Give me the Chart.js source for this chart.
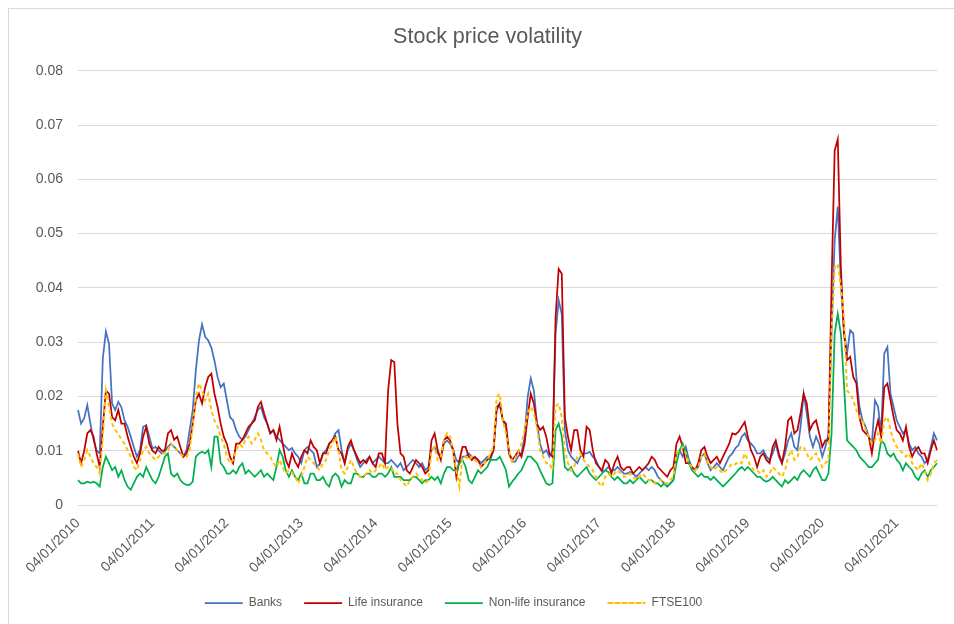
<!DOCTYPE html>
<html>
<head>
<meta charset="utf-8">
<title>Stock price volatility</title>
<script src="https://cdn.jsdelivr.net/npm/chart.js@4.4.1/dist/chart.umd.min.js"></script>
<style>
  html, body { margin: 0; padding: 0; background: #fff; }
  #wrap { position: relative; width: 954px; height: 624px; overflow: hidden; }
  #frame { position: absolute; left: 8px; top: 8px; width: 1000px; height: 1000px; border: 1px solid #d9d9d9; }
  #chart { position: absolute; left: 0; top: 0; }
</style>
</head>
<body>
<div id="wrap">
  <div id="frame"></div>
  <canvas id="chart" width="954" height="624"></canvas>
</div>
<script>
// two readings a month, Jan 2010 .. mid 2021
const pointsPerYear = 24;
const yearTicks = ['04/01/2010','04/01/2011','04/01/2012','04/01/2013','04/01/2014','04/01/2015',
  '04/01/2016','04/01/2017','04/01/2018','04/01/2019','04/01/2020','04/01/2021'];

const banks = [
  0.0175,0.015,0.016,0.0184,0.015,0.012,0.010,0.0095,0.027,0.032,0.0297,0.0187,0.0175,0.019,0.018,0.0156,0.0144,0.0126,0.0107,0.0089,0.0101,0.0144,0.0147,0.0126,
  0.0104,0.0107,0.010,0.0095,0.010,0.0107,0.0113,0.0107,0.0101,0.0095,0.0089,0.0101,0.0138,0.0175,0.0248,0.0303,0.0333,0.031,0.0303,0.029,0.0266,0.0236,0.0217,0.0224,
  0.0193,0.0162,0.0156,0.0138,0.0126,0.012,0.0126,0.0138,0.015,0.0162,0.0175,0.0181,0.0162,0.015,0.0132,0.0138,0.0126,0.012,0.0113,0.0107,0.0101,0.0105,0.0095,0.0089,
  0.0077,0.0101,0.0107,0.0101,0.0095,0.007,0.0077,0.0095,0.0101,0.0113,0.0119,0.0132,0.0138,0.0101,0.0077,0.0101,0.0113,0.0101,0.0083,0.007,0.0077,0.0083,0.0089,0.0077,
  0.0083,0.0089,0.0083,0.0077,0.0077,0.0083,0.0077,0.007,0.0077,0.0064,0.007,0.0077,0.0083,0.0077,0.007,0.0077,0.0064,0.007,0.0101,0.0107,0.0095,0.0089,0.0113,0.0119,
  0.0113,0.0101,0.0083,0.0077,0.0089,0.0089,0.0095,0.0089,0.0086,0.0083,0.0077,0.0083,0.0089,0.0083,0.0101,0.0181,0.0187,0.0156,0.0144,0.0095,0.008,0.008,0.009,0.0095,
  0.0126,0.0199,0.0233,0.0211,0.015,0.0113,0.0095,0.0101,0.0089,0.0101,0.0316,0.0377,0.0352,0.0138,0.0101,0.0089,0.0083,0.0077,0.0089,0.0095,0.0095,0.0098,0.0089,0.0083,
  0.007,0.0061,0.0064,0.007,0.0064,0.0064,0.007,0.0064,0.0058,0.0058,0.0061,0.0058,0.0052,0.0058,0.0064,0.007,0.0064,0.007,0.0064,0.0052,0.0046,0.004,0.0034,0.004,
  0.0046,0.0095,0.0101,0.0089,0.0107,0.0083,0.007,0.0064,0.007,0.0089,0.0095,0.0077,0.0064,0.007,0.0077,0.007,0.0064,0.0077,0.0089,0.0095,0.0105,0.011,0.0126,0.0132,
  0.0119,0.0113,0.0107,0.0095,0.0095,0.0101,0.0089,0.0083,0.0095,0.0113,0.0089,0.0077,0.0095,0.0119,0.0132,0.0107,0.0101,0.0144,0.0205,0.0169,0.0126,0.0107,0.0126,0.0113,
  0.0089,0.0107,0.0132,0.0316,0.0487,0.055,0.0407,0.0322,0.0279,0.0322,0.0316,0.0236,0.0181,0.0156,0.0144,0.0126,0.0113,0.0193,0.0181,0.0132,0.0279,0.0291,0.0205,0.0181,
  0.0156,0.0144,0.0132,0.0138,0.0113,0.0101,0.0107,0.0095,0.0089,0.0077,0.0083,0.0107,0.0132,0.0119
];

const lifeInsurance = [
  0.010,0.0077,0.010,0.0132,0.0138,0.0126,0.0095,0.007,0.0144,0.0211,0.0205,0.0162,0.0156,0.0175,0.015,0.015,0.0126,0.0107,0.0089,0.0077,0.0095,0.0126,0.0144,0.0113,
  0.010,0.0095,0.0107,0.010,0.010,0.0132,0.0138,0.012,0.0126,0.0107,0.0089,0.0095,0.0113,0.015,0.0193,0.0205,0.0187,0.0217,0.0236,0.0242,0.0205,0.0181,0.015,0.0126,
  0.0113,0.0089,0.0077,0.0113,0.0113,0.012,0.0132,0.0144,0.015,0.0156,0.0181,0.019,0.0169,0.015,0.0132,0.0138,0.012,0.0144,0.0113,0.0083,0.007,0.0095,0.008,0.007,
  0.0089,0.0101,0.0095,0.0119,0.0107,0.0101,0.0077,0.0095,0.0095,0.0113,0.0119,0.0126,0.0101,0.0095,0.0077,0.0107,0.0119,0.0101,0.0089,0.0077,0.0083,0.0077,0.0089,0.0077,
  0.007,0.0095,0.0095,0.0077,0.0211,0.0267,0.0263,0.015,0.0095,0.0089,0.0064,0.0058,0.007,0.0083,0.0077,0.007,0.0058,0.0064,0.0119,0.0132,0.0101,0.0083,0.0119,0.0126,
  0.0119,0.0101,0.0052,0.0083,0.0107,0.0107,0.0089,0.0083,0.0089,0.0083,0.007,0.0077,0.0083,0.0089,0.0101,0.0175,0.0187,0.0156,0.015,0.0095,0.0083,0.009,0.010,0.0089,
  0.0113,0.0162,0.0205,0.0187,0.015,0.0138,0.0144,0.0126,0.0095,0.0089,0.0346,0.0435,0.0426,0.0162,0.0126,0.0101,0.0138,0.0138,0.0101,0.0089,0.0144,0.0138,0.0101,0.0077,
  0.007,0.0064,0.0083,0.0077,0.0058,0.0077,0.0089,0.007,0.0064,0.007,0.007,0.0058,0.0064,0.007,0.0064,0.007,0.0077,0.0089,0.0083,0.007,0.0064,0.0058,0.0052,0.0064,
  0.007,0.0113,0.0126,0.0107,0.0077,0.0077,0.007,0.0064,0.0077,0.0101,0.0107,0.0089,0.0077,0.0083,0.0089,0.0077,0.0089,0.0101,0.0113,0.0132,0.013,0.0135,0.0144,0.0153,
  0.0126,0.0101,0.0089,0.007,0.0089,0.0095,0.0083,0.0077,0.0107,0.0119,0.0095,0.0077,0.0107,0.0156,0.0162,0.0132,0.0138,0.0169,0.0205,0.0187,0.0138,0.015,0.0156,0.0132,
  0.0107,0.0119,0.0119,0.0407,0.0653,0.0674,0.0438,0.0316,0.0267,0.0273,0.0236,0.0224,0.0162,0.0138,0.0132,0.0126,0.0095,0.0132,0.0156,0.0126,0.0217,0.0224,0.0193,0.0162,
  0.0138,0.0132,0.0119,0.0144,0.0107,0.0089,0.0101,0.0107,0.0095,0.0095,0.0077,0.0101,0.0119,0.0101
];

const nonLifeInsurance = [
  0.0046,0.004,0.004,0.0043,0.0041,0.0043,0.004,0.0034,0.007,0.0089,0.0077,0.0064,0.007,0.0052,0.0064,0.0046,0.0034,0.0028,0.004,0.0052,0.0058,0.0052,0.007,0.0058,
  0.0046,0.004,0.0052,0.007,0.0089,0.0095,0.0058,0.0052,0.0058,0.0046,0.004,0.0037,0.0037,0.0043,0.0089,0.0095,0.0098,0.0095,0.0101,0.007,0.0126,0.0126,0.0077,0.007,
  0.0058,0.0058,0.0064,0.0058,0.007,0.0077,0.0058,0.0064,0.0058,0.0052,0.0058,0.0064,0.0052,0.0058,0.0052,0.0046,0.007,0.0101,0.0089,0.0064,0.0052,0.0064,0.0052,0.0046,
  0.0058,0.004,0.004,0.0058,0.0058,0.0046,0.0046,0.0052,0.004,0.0034,0.0052,0.0058,0.0052,0.0034,0.0046,0.004,0.004,0.0058,0.0058,0.0052,0.0052,0.0058,0.0058,0.0052,
  0.0052,0.0058,0.0058,0.0052,0.0058,0.007,0.0052,0.0052,0.0052,0.0046,0.0046,0.0046,0.0052,0.0052,0.0046,0.004,0.0046,0.0046,0.0052,0.0046,0.0052,0.004,0.0058,0.007,
  0.007,0.0064,0.0064,0.0077,0.0083,0.007,0.0046,0.004,0.0052,0.0064,0.0058,0.0064,0.007,0.0083,0.0083,0.0083,0.0089,0.0077,0.0064,0.0034,0.0043,0.005,0.0058,0.0064,
  0.0077,0.0089,0.0089,0.0083,0.0077,0.0064,0.0052,0.004,0.0037,0.004,0.0138,0.015,0.0126,0.007,0.0064,0.007,0.0058,0.0052,0.0058,0.0064,0.007,0.0058,0.0052,0.0046,
  0.0052,0.0058,0.0064,0.0061,0.0052,0.0046,0.0052,0.0046,0.004,0.004,0.0046,0.004,0.0046,0.0052,0.0046,0.004,0.0046,0.0046,0.004,0.004,0.0034,0.004,0.0034,0.004,
  0.0046,0.0077,0.0101,0.0113,0.0095,0.0077,0.0064,0.0058,0.0052,0.0058,0.0052,0.0052,0.0046,0.0052,0.0046,0.004,0.0034,0.004,0.0046,0.0052,0.0058,0.0065,0.007,0.0064,
  0.007,0.0064,0.0058,0.0052,0.0052,0.0046,0.0043,0.0046,0.0052,0.0046,0.004,0.0034,0.0046,0.004,0.0046,0.0052,0.0046,0.0058,0.0064,0.0058,0.0052,0.0064,0.007,0.0058,
  0.0046,0.0046,0.0058,0.0132,0.0316,0.0352,0.0316,0.0224,0.0119,0.0113,0.0107,0.0101,0.0089,0.0083,0.0077,0.007,0.007,0.0077,0.0083,0.0119,0.0113,0.0095,0.0089,0.0095,
  0.0083,0.0077,0.0064,0.0077,0.007,0.0064,0.0052,0.0046,0.0058,0.0064,0.0052,0.0064,0.007,0.0077
];

const ftse100 = [
  0.0095,0.007,0.0083,0.0101,0.0089,0.0077,0.007,0.0058,0.0126,0.0211,0.0181,0.015,0.0138,0.0132,0.012,0.0113,0.0101,0.0089,0.007,0.0064,0.0083,0.0101,0.0107,0.0095,
  0.0089,0.0083,0.0089,0.0095,0.0095,0.0101,0.0113,0.0107,0.0101,0.0095,0.0089,0.0089,0.0101,0.0144,0.0199,0.0224,0.0211,0.0193,0.0205,0.0175,0.0156,0.0144,0.0126,0.0113,
  0.0089,0.0077,0.0083,0.0101,0.0113,0.0107,0.012,0.0126,0.0113,0.012,0.0132,0.012,0.0101,0.0095,0.0089,0.0077,0.007,0.0083,0.007,0.0058,0.0064,0.006,0.0052,0.004,
  0.0052,0.007,0.0089,0.0083,0.0077,0.007,0.0064,0.0077,0.0083,0.0101,0.0113,0.0126,0.0101,0.0064,0.0058,0.007,0.0083,0.007,0.0058,0.0052,0.0052,0.0058,0.0064,0.0058,
  0.0064,0.007,0.0077,0.0064,0.007,0.007,0.0058,0.0058,0.0046,0.004,0.0034,0.0046,0.0052,0.0058,0.0052,0.0046,0.004,0.0046,0.0101,0.0107,0.0083,0.0089,0.0119,0.0132,
  0.0126,0.0095,0.0064,0.0034,0.0089,0.0089,0.0083,0.0089,0.0083,0.0077,0.007,0.0077,0.0083,0.0095,0.0107,0.0199,0.0205,0.0156,0.0132,0.0101,0.008,0.0086,0.0098,0.0113,
  0.0138,0.0169,0.0181,0.0169,0.0144,0.0101,0.0089,0.0077,0.0077,0.0064,0.0181,0.0187,0.0162,0.0101,0.0077,0.0064,0.007,0.0089,0.0095,0.0083,0.0077,0.007,0.0064,0.0052,
  0.004,0.0034,0.0052,0.0058,0.0052,0.0058,0.0064,0.0058,0.0052,0.0052,0.0058,0.0052,0.0046,0.0052,0.0058,0.0052,0.0046,0.0046,0.004,0.0046,0.0046,0.004,0.004,0.0046,
  0.0052,0.0095,0.0101,0.0107,0.0095,0.0077,0.007,0.0064,0.007,0.0089,0.0095,0.0077,0.007,0.0064,0.007,0.0064,0.0058,0.0064,0.007,0.0077,0.0075,0.008,0.0077,0.0095,
  0.0083,0.007,0.0064,0.0064,0.0058,0.0064,0.0052,0.0058,0.007,0.0064,0.0058,0.0052,0.0064,0.0089,0.0101,0.0083,0.0089,0.0107,0.0107,0.0095,0.0083,0.0089,0.0095,0.0083,
  0.007,0.0077,0.0083,0.0316,0.0438,0.0444,0.0401,0.0346,0.0211,0.0205,0.0193,0.0175,0.0162,0.0156,0.0138,0.0126,0.0113,0.0119,0.0132,0.0113,0.0156,0.0162,0.0138,0.0119,
  0.0107,0.0101,0.0095,0.0089,0.0095,0.0077,0.007,0.0064,0.0077,0.0064,0.0046,0.0058,0.0077,0.0083
];

const labels = banks.map((_, i) => i % pointsPerYear === 0 ? yearTicks[i / pointsPerYear] : '');

const fontFamily = "'Liberation Sans', Arial, sans-serif";
const textGrey = '#595959';

function series(label, data, color, width, order, dash){
  return {
    label, data,
    borderColor: color,
    backgroundColor: color,
    borderWidth: width,
    borderDash: dash || [],
    order,
    pointRadius: 0,
    tension: 0
  };
}

// Excel puts the title a bit right of centre and the legend a bit left
const nudgeBoxes = {
  id: 'nudgeBoxes',
  afterLayout(chart){
    if (chart.titleBlock){ chart.titleBlock.left += 15; chart.titleBlock.right += 15; }
    if (chart.legend){ chart.legend.left -= 19; chart.legend.right -= 19; }
  }
};

new Chart(document.getElementById('chart'), {
  type: 'line',
  data: {
    labels,
    datasets: [
      series('Banks', banks, '#4472C4', 1.75, 4),
      series('Life insurance', lifeInsurance, '#C00000', 1.75, 3),
      series('Non-life insurance', nonLifeInsurance, '#00B050', 1.75, 2),
      series('FTSE100', ftse100, '#FFC000', 2, 1, [4, 3])
    ]
  },
  plugins: [nudgeBoxes],
  options: {
    responsive: false,
    animation: false,
    devicePixelRatio: 1,
    events: [],
    layout: { padding: { left: 8, right: 17, top: 8, bottom: 5 } },
    plugins: {
      title: {
        display: true,
        text: 'Stock price volatility',
        color: textGrey,
        font: { family: fontFamily, size: 21.5, weight: 'normal' },
        padding: { top: 16, bottom: 21 }
      },
      legend: {
        position: 'bottom',
        labels: {
          boxWidth: 38,
          boxHeight: 0,
          padding: 22,
          color: textGrey,
          font: { family: fontFamily, size: 12 },
          sort: (a, b) => a.datasetIndex - b.datasetIndex
        }
      },
      tooltip: { enabled: false }
    },
    scales: {
      x: {
        grid: { display: false, drawTicks: false },
        border: { display: false },
        ticks: {
          autoSkip: false,
          minRotation: 45,
          maxRotation: 45,
          padding: 10,
          color: textGrey,
          font: { family: fontFamily, size: 14 }
        },
        afterFit: s => { s.height = 70; s.paddingRight = 0; }
      },
      y: {
        min: 0,
        max: 0.08,
        grid: { color: '#D9D9D9', drawTicks: false },
        border: { display: false },
        ticks: {
          stepSize: 0.01,
          padding: 15,
          color: textGrey,
          font: { family: fontFamily, size: 14 },
          callback: v => v === 0 ? '0' : v.toFixed(2)
        },
        afterFit: s => { s.width = 70; }
      }
    }
  }
});
</script>
</body>
</html>
